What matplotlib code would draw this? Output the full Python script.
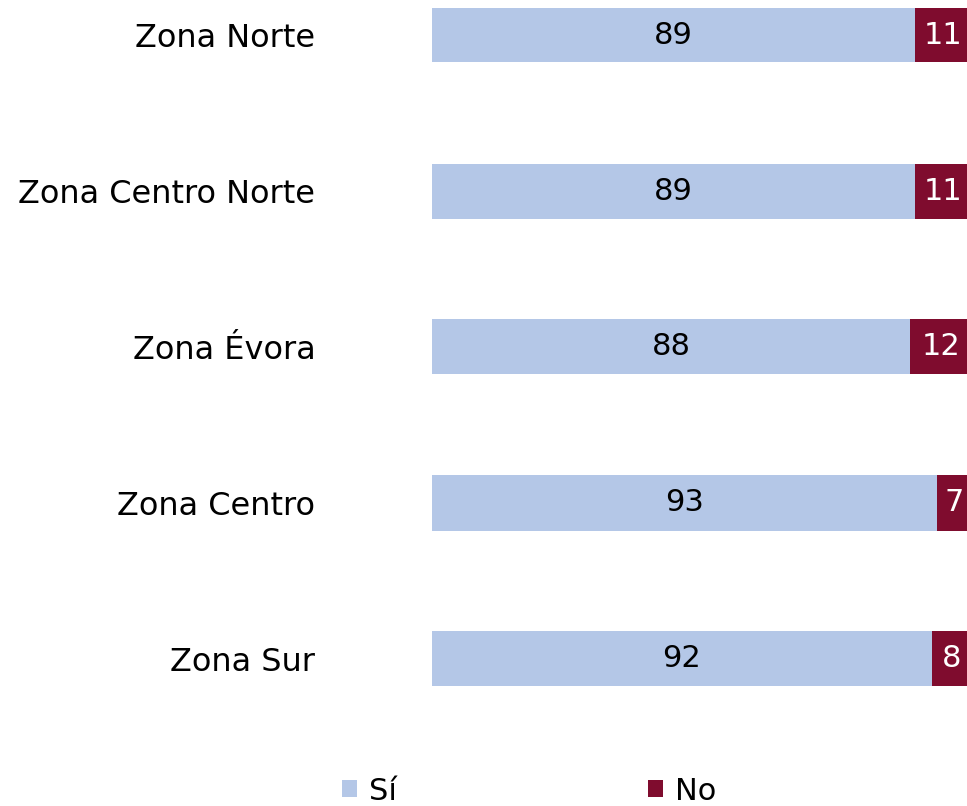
import matplotlib.pyplot as plt
import numpy as np

# Data
zones = ['Zona Norte', 'Zona Centro Norte', 'Zona Évora', 'Zona Centro', 'Zona Sur']
si_values = [89, 89, 88, 93, 92]
no_values = [11, 11, 12, 7, 8]

color_si = '#B4C7E7'
color_no = '#7F0C2E'

fig = plt.figure(figsize=(9.67, 8.06), dpi=100)
# axes runs slightly past the right edge, as in the original
ax = fig.add_axes([432 / 967, 1 - 720 / 806, 543 / 967, 720 / 806])

y = np.arange(len(zones))
bar_h = 55 / 156

ax.barh(y, si_values, height=bar_h, color=color_si, label='Sí')
ax.barh(y, no_values, left=si_values, height=bar_h, color=color_no, label='No')

# Value labels
for i, (s, n) in enumerate(zip(si_values, no_values)):
    ax.text(s / 2, i, f'{s}', ha='center', va='center', fontsize=22, color='black')
    ax.text(s + n / 2 - 0.3, i, f'{n}', ha='center', va='center', fontsize=22, color='white')

ax.set_xlim(0, 100)
ax.set_ylim((720 - 35) / 156, -35 / 156)
ax.set_yticks(y)
ax.set_yticklabels(zones, fontsize=23)
ax.tick_params(axis='y', length=0, pad=84)
ax.set_xticks([])
for spine in ax.spines.values():
    spine.set_visible(False)

handles, labels = ax.get_legend_handles_labels()
fig.legend(handles, labels, loc='center', bbox_to_anchor=(529 / 967, 1 - 791 / 806),
           ncol=2, frameon=False, fontsize=22, handlelength=0.5, handleheight=0.5,
           handletextpad=0.4, columnspacing=8.2)

fig.savefig('out.png', dpi=100)
